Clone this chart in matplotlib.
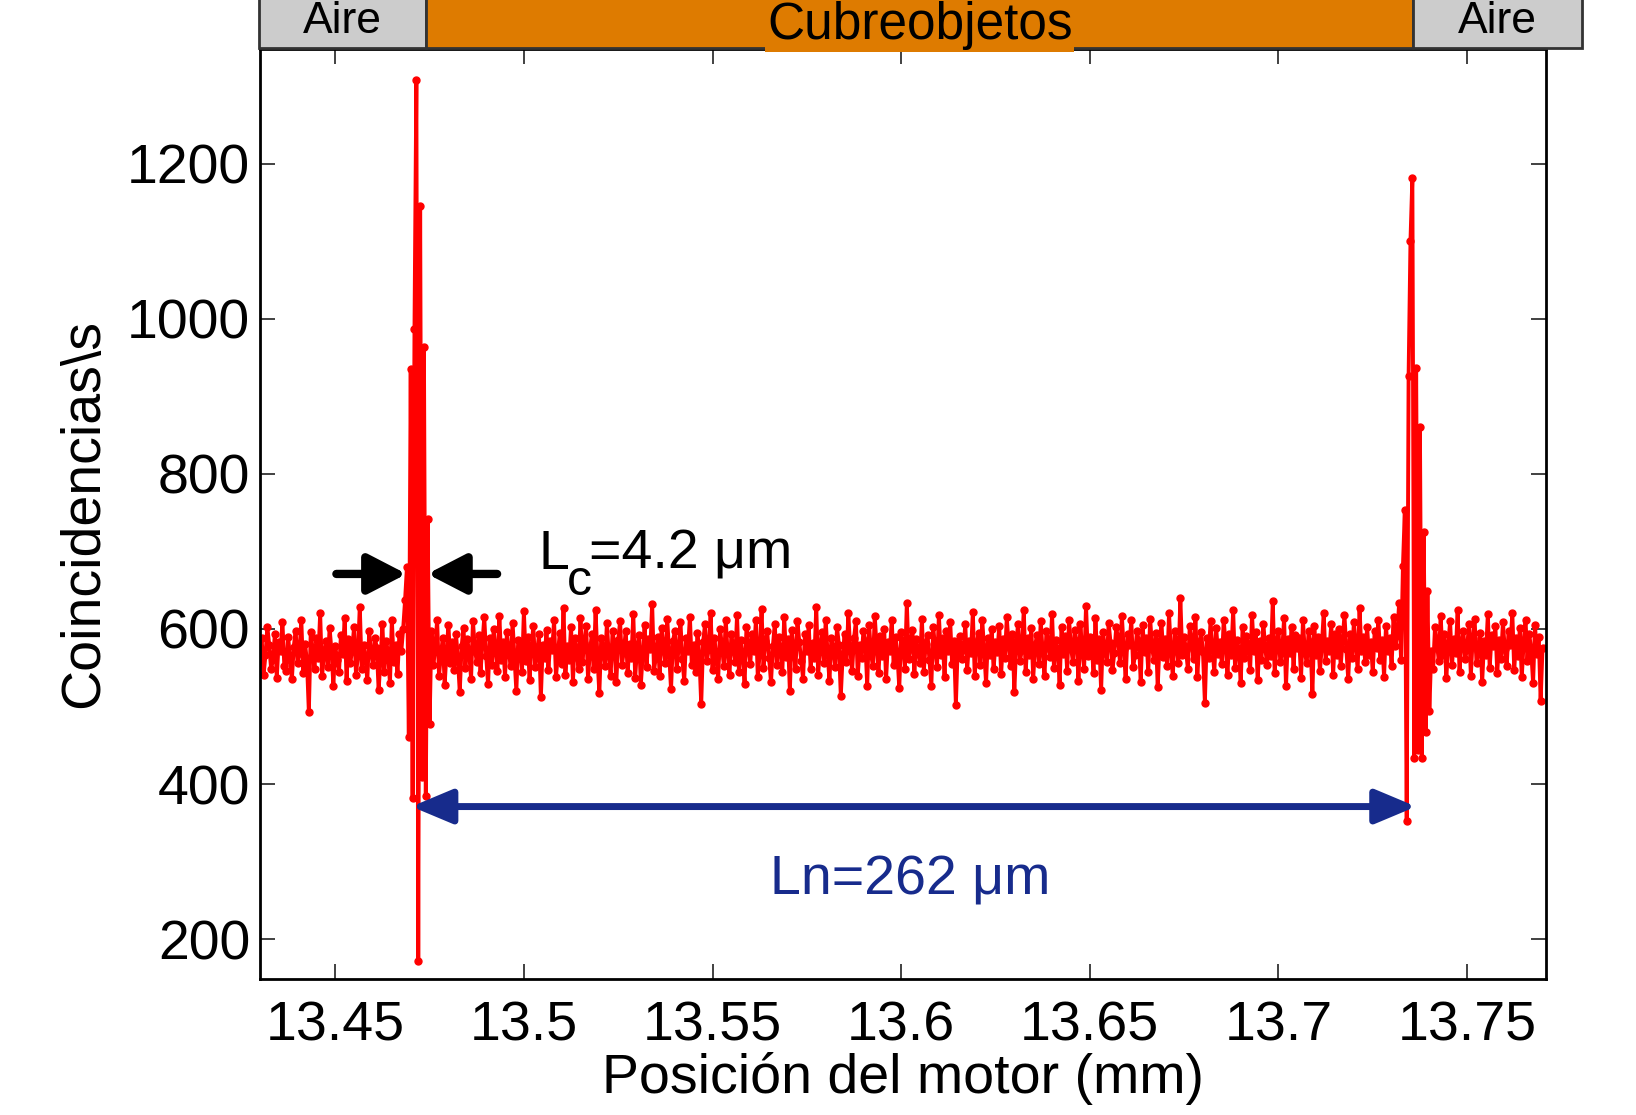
import numpy as np
import matplotlib
matplotlib.use("Agg")
import matplotlib.pyplot as plt

plt.rcParams['font.family'] = ['Liberation Sans', 'DejaVu Sans']

# motor scan grid (mm)
scan_start = 13.430
scan_step = 0.0005

# coincidence counts per second
counts_left = [
    572, 588, 541, 566, 603, 579, 548, 561, 594, 537, 583, 571, 609, 552, 546, 590, 564, 535, 577, 598,
    556, 569, 612, 543, 581, 558, 493, 596, 574, 549, 588, 562, 620, 539, 567, 584, 551, 601, 572, 527,
    578, 560, 545, 592, 568, 614, 533, 587, 556, 575, 603, 541, 566, 629, 548, 580, 561, 534, 597, 570,
    553, 589, 576, 521, 562, 606, 545, 585, 568, 530, 612, 557, 579, 542, 594, 571, 600, 637,
]
peak_first = [680, 461, 935, 382, 987, 1308, 172, 1146, 409, 964, 384, 742, 477]
counts_mid = [
    598, 553, 575, 612, 540, 566, 589, 528, 571, 605, 556, 583, 547, 594, 562, 519, 578, 601, 550, 587,
    569, 536, 610, 574, 558, 592, 543, 581, 615, 565, 529, 588, 554, 600, 572, 546, 617, 560, 583, 538,
    596, 571, 552, 608, 563, 520, 586, 577, 545, 623, 559, 590, 534, 575, 604, 551, 569, 593, 512, 580,
    562, 599, 547, 585, 573, 611, 538, 566, 595, 555, 627, 541, 578, 560, 603, 532, 588, 570, 549, 614,
    557, 582, 604, 536, 571, 593, 548, 624, 563, 517, 589, 575, 552, 608, 566, 540, 597, 579, 531, 586,
    610, 554, 572, 598, 543, 581, 563, 619, 537, 576, 592, 528, 568, 605, 551, 587, 574, 632, 546, 565,
    590, 539, 601, 577, 556, 613, 569, 522, 584, 597, 548, 575, 609, 561, 533, 588, 572, 616, 554, 579,
    544, 595, 567, 503, 583, 606, 559, 574, 621, 547, 589, 563, 535, 600, 578, 552, 612, 570, 541, 593,
    576, 558, 618, 545, 586, 566, 529, 603, 581, 555, 594, 572, 611, 538, 569, 626, 550, 584, 597, 562,
    531, 578, 607, 553, 590, 571, 544, 615, 564, 587, 520, 599, 575, 548, 610, 583, 559, 536, 594, 572,
    605, 549, 582, 563, 628, 541, 577, 596, 556, 611, 568, 533, 589, 574, 551, 602, 580, 514, 566, 593,
    557, 620, 573, 546, 588, 610, 539, 579, 562, 598, 584, 527, 605, 569, 552, 617, 576, 543, 591, 565,
    600, 535, 583, 571, 612, 554, 590, 567, 524, 596, 580, 548, 634, 561, 578, 599, 542, 587, 570, 556,
    613, 545, 581, 592, 560, 527, 603, 575, 551, 618, 566, 588, 538, 597, 572, 609, 555, 584, 502, 578,
    591, 561, 574, 606, 547, 585, 569, 622, 539, 580, 595, 553, 611, 573, 530, 589, 566, 600, 548, 583,
    570, 604, 542, 587, 563, 615, 578, 552, 594, 519, 582, 607, 559, 573, 625, 544, 588, 566, 601, 536,
    579, 592, 555, 610, 571, 540, 597, 583, 564, 619, 550, 586, 574, 528, 603, 568, 591, 546, 612, 577,
    558, 599, 584, 533, 606, 572, 549, 630, 565, 590, 578, 543, 614, 560, 587, 521, 596, 575, 557, 608,
    582, 547, 569, 602, 588, 556, 617, 574, 536, 593, 580, 611, 551, 567, 598, 584, 532, 605, 570, 589,
    545, 613, 576, 560, 595, 525, 583, 608, 564, 587, 552, 620, 571, 539, 597, 578, 556, 640, 566, 590,
    573, 548, 604, 585, 561, 616, 538, 581, 596, 570, 505, 589, 563, 610, 577, 544, 601, 568, 583, 555,
    612, 579, 541, 593, 567, 624, 550, 586, 574, 530, 603, 562, 591, 578, 547, 618, 571, 596, 534, 584,
    560, 607, 576, 553, 589, 565, 636, 543, 580, 598, 557, 572, 614, 526, 587, 569, 602, 549, 592, 575,
    588, 537, 611, 570, 556, 597, 583, 516, 604, 566, 590, 546, 578, 621, 559, 585, 572, 607, 541, 594,
    567, 600, 552, 586, 618, 574, 535, 593, 562, 609, 579, 548, 627, 571, 590, 557, 603, 566, 583, 544,
    597, 575, 612, 560, 586, 538, 604, 571, 589, 552, 616, 578, 593,
]
peak_second = [634, 560, 681, 753, 353, 926, 1101, 1182, 433, 937, 444, 861, 433, 725, 467, 649]
counts_right = [
    494, 571, 548, 603, 582, 559, 617, 566, 594, 537, 578, 610, 553, 587, 569, 624, 545, 581, 598, 561,
    575, 606, 540, 589, 613, 556, 572, 595, 531, 584, 567, 619, 550, 592, 578, 604, 543, 586, 561, 609,
    574, 552, 598, 580, 620, 547, 588, 565, 601, 538, 583, 611, 559, 593, 572, 530, 605, 568, 590, 507,
    576,
]

# sample layers along the scan
layer_names = ['Aire', 'Cubreobjetos', 'Aire']
layer_edges = [13.430, 13.4744, 13.7362, 13.781]
layer_colors = ['#cccccc', '#de7b00', '#cccccc']

xticks = [13.45, 13.5, 13.55, 13.6, 13.65, 13.7, 13.75]
xtick_labels = ['13.45', '13.5', '13.55', '13.6', '13.65', '13.7', '13.75']
yticks = [200, 400, 600, 800, 1000, 1200]

counts = np.array(counts_left + peak_first + counts_mid + peak_second + counts_right)
pos = scan_start + scan_step * np.arange(len(counts))

W, H = 1636, 1115
fig = plt.figure(figsize=(W / 100, H / 100), dpi=100)
ax = fig.add_axes([259.8 / W, (H - 978.7) / H, (1546.3 - 259.8) / W, (978.7 - 49) / H])

ax.plot(pos, counts, '-o', color='red', lw=2.8, ms=5)
ax.set_xlim(13.43, 13.771)
ax.set_ylim(149, 1348)
ax.set_xticks(xticks)
ax.set_xticklabels(xtick_labels)
ax.set_yticks(yticks)
ax.tick_params(direction='in', length=11, width=1.3, color='#333333',
               top=True, right=True, labelsize=40)
ax.tick_params(axis='x', pad=16)
ax.tick_params(axis='y', pad=7)
for sp in ax.spines.values():
    sp.set_linewidth(2)
ax.set_xlabel('Posición del motor (mm)', fontsize=40, labelpad=-1)
ax.set_ylabel('Coincidencias\\s', fontsize=40, labelpad=12)

# coherence length markers
arrow_black = dict(arrowstyle='-|>,head_length=0.58,head_width=0.3', color='black',
                   lw=6, mutation_scale=40, shrinkA=0, shrinkB=0)
ax.annotate('', xy=(13.4689, 671), xytext=(13.4503, 671), arrowprops=arrow_black)
ax.annotate('', xy=(13.4744, 671), xytext=(13.4929, 671), arrowprops=arrow_black)
ax.text(13.5039, 678, 'L', fontsize=40, ha='left', va='baseline')
ax.text(13.5115, 644, 'c', fontsize=36, ha='left', va='baseline')
ax.text(13.5172, 678, '=4.2 μm', fontsize=40, ha='left', va='baseline')

# slide thickness
blue = '#172b8c'
ax.annotate('', xy=(13.7365, 371), xytext=(13.4702, 371),
            arrowprops=dict(arrowstyle='<|-|>,head_length=0.62,head_width=0.26', color=blue,
                            lw=5, mutation_scale=40, shrinkA=0, shrinkB=0))
ax.text(13.6025, 257, 'Ln=262 μm', fontsize=40, color=blue, ha='center', va='baseline')

# layer bar above the plot
bar = fig.add_axes([258.8 / W, (H - 48) / H, 1323 / W, 70 / H])
bar.set_xlim(13.43, 13.7809)
bar.set_ylim(0, 1)
bar.axis('off')
for name, x0, x1, c in zip(layer_names, layer_edges[:-1], layer_edges[1:], layer_colors):
    bar.barh(0.5, x1 - x0, left=x0, height=1, color=c, edgecolor='#333333',
             linewidth=2, clip_on=False)
    mid = (x0 + x1) / 2
    if name == 'Cubreobjetos':
        bar.text(mid, 0.32, name, fontsize=37, ha='center', va='center', clip_on=False,
                 bbox=dict(facecolor=c, edgecolor='none', pad=1))
    else:
        bar.text(mid, 0.38, name, fontsize=32, ha='center', va='center', clip_on=False)

fig.savefig('out.png', dpi=100)
